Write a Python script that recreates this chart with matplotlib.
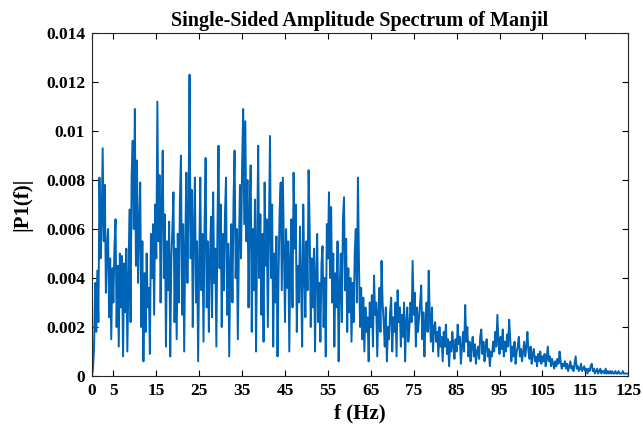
"""Single-sided amplitude spectrum of the Manjil record, redrawn in matplotlib."""

import numpy as np
import matplotlib
matplotlib.use("Agg")
import matplotlib.pyplot as plt

# Frequency axis: 0 .. 125 Hz in 0.25 Hz bins
freq = np.linspace(0, 125, 501)

# |P1(f)|, in units of 1e-4, one row per 5 Hz
amp_e4 = [
    0, 3, 12, 38, 18, 43, 22, 81, 48, 62, 93, 55, 78, 34, 52, 60, 24, 48, 15, 44,
    30, 53, 64, 20, 45, 12, 50, 28, 49, 8, 46, 26, 52, 10, 40, 68, 22, 82, 96, 60,
    109, 45, 88, 38, 62, 79, 20, 55, 6, 42, 18, 50, 28, 36, 9, 58, 40, 62, 25, 70,
    48, 112, 55, 82, 30, 70, 92, 40, 66, 12, 55, 35, 63, 8, 48, 60, 75, 22, 52, 15,
    58, 30, 72, 90, 25, 62, 10, 54, 83, 38, 66, 123, 48, 76, 20, 60, 81, 30, 55, 6,
    46, 81, 35, 58, 14, 62, 89, 28, 55, 18, 48, 65, 24, 75, 38, 52, 12, 60, 94, 44,
    70, 20, 58, 35, 66, 81, 25, 54, 8, 47, 62, 30, 72, 92, 40, 60, 15, 52, 78, 48,
    86, 109, 62, 104, 55, 80, 28, 68, 86, 18, 60, 35, 72, 10, 55, 94, 40, 66, 25, 58,
    14, 79, 45, 64, 20, 58, 98, 40, 70, 12, 50, 30, 57, 8, 42, 68, 79, 35, 81, 50,
    22, 60, 36, 55, 10, 48, 64, 28, 83, 52, 70, 18, 45, 30, 61, 38, 12, 70, 42, 24,
    55, 35, 84, 60, 20, 48, 28, 52, 10, 42, 58, 22, 38, 14, 46, 53, 20, 40, 8, 62,
    48, 75, 40, 69, 30, 50, 12, 42, 28, 55, 6, 36, 50, 22, 64, 73, 35, 56, 18, 44,
    26, 40, 14, 38, 22, 50, 60, 30, 81, 45, 20, 36, 15, 32, 10, 28, 18, 24, 6, 30,
    20, 33, 12, 41, 25, 30, 8, 26, 36, 18, 47, 30, 22, 12, 28, 6, 20, 15, 26, 32,
    10, 24, 18, 30, 8, 35, 22, 28, 12, 25, 16, 30, 6, 22, 28, 14, 20, 30, 22, 47,
    25, 34, 12, 28, 18, 24, 30, 37, 15, 26, 8, 22, 30, 18, 43, 24, 14, 28, 10, 20,
    22, 14, 18, 8, 20, 12, 16, 6, 18, 12, 21, 9, 15, 4, 14, 10, 18, 12, 7, 15,
    10, 21, 13, 16, 5, 12, 18, 10, 29, 14, 20, 8, 14, 6, 12, 16, 8, 13, 5, 10,
    12, 7, 16, 19, 9, 14, 6, 12, 15, 8, 11, 4, 10, 8, 14, 10, 18, 12, 25, 14,
    9, 16, 11, 19, 8, 14, 10, 17, 12, 23, 15, 6, 12, 8, 14, 5, 10, 12, 16, 8,
    11, 6, 10, 14, 8, 12, 18, 10, 7, 12, 5, 9, 11, 6, 8, 4, 9, 6, 10, 5,
    8, 6, 9, 4, 7, 12, 6, 8, 4, 7, 5, 3, 6, 4, 7, 5, 10, 6, 3, 5,
    4, 6, 3, 5, 2, 4, 6, 3, 4, 2, 5, 8, 3, 4, 2, 3, 5, 2, 3, 4,
    2, 3, 1, 3, 2, 4, 5, 2, 3, 1, 2, 3, 1, 2, 3, 1, 2, 2, 1, 3,
    1, 2, 1, 2, 1, 2, 1, 1, 2, 1, 1, 2, 1, 1, 1, 2, 1, 1, 1, 1, 1,
]
amp = np.array(amp_e4) * 1e-4

x_ticks = [0, 5, 15, 25, 35, 45, 55, 65, 75, 85, 95, 105, 115, 125]
y_ticks = [0, 0.002, 0.004, 0.006, 0.008, 0.01, 0.012, 0.014]
y_labels = ["0", "0.002", "0.004", "0.006", "0.008", "0.01", "0.012", "0.014"]

plt.rcParams["font.family"] = ["Liberation Serif", "DejaVu Serif"]
plt.rcParams["font.weight"] = "bold"

fig = plt.figure(figsize=(6.43, 4.29), dpi=100)
ax = fig.add_axes([0.143, 0.1235, 0.834, 0.7995])

ax.plot(freq, amp, color="#0064B6", linewidth=1.4)

ax.set_xlim(0, 125)
ax.set_ylim(0, 0.014)
ax.set_xticks(x_ticks)
ax.set_yticks(y_ticks)
ax.set_yticklabels(y_labels)
ax.tick_params(direction="in", top=True, right=True, length=4, width=0.8,
               labelsize=12.5, pad=5)
for lab in ax.get_xticklabels() + ax.get_yticklabels():
    lab.set_fontweight("bold")
for side in ax.spines.values():
    side.set_linewidth(0.8)
    side.set_color("#262626")

ax.set_title("Single-Sided Amplitude Spectrum of Manjil", fontsize=14.5,
             fontweight="bold", pad=5)
ax.set_xlabel("f (Hz)", fontsize=15, fontweight="bold", labelpad=3)
ax.set_ylabel("|P1(f)|", fontsize=15, fontweight="bold", labelpad=10)

fig.savefig("out.png", dpi=100)
